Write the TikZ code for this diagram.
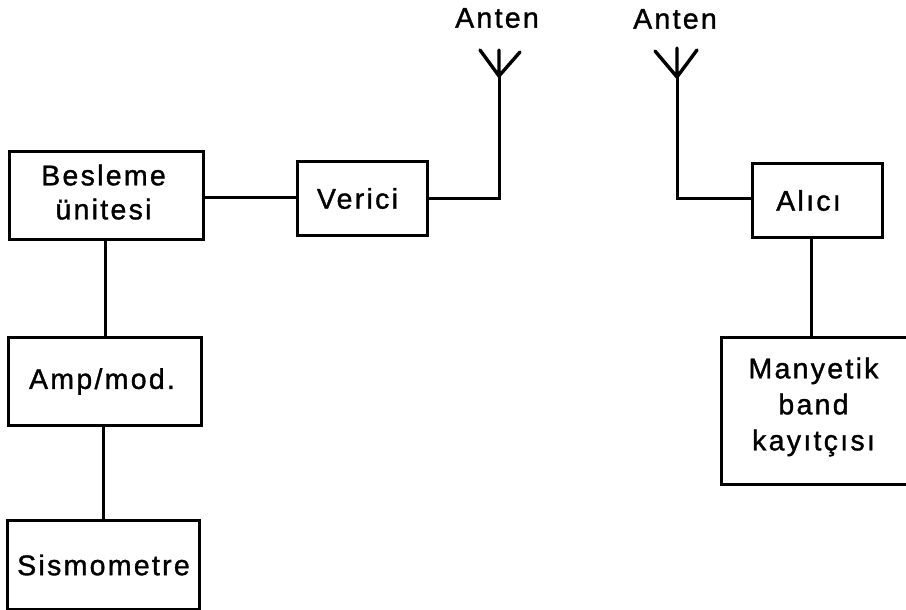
\documentclass[tikz,border=0pt]{standalone}
\usepackage{fontspec}
\setmainfont{Liberation Sans}[LetterSpace=8,FakeBold=1.2]
\tikzset{
  blockbox/.style={draw=black,line width=3pt,inner sep=0pt,align=center,anchor=north west,line cap=round,font=\fontsize{28.5}{34}\selectfont},
  link/.style={draw=black,line width=3pt},
  antenna/.style={draw=black,line width=3.4pt,line cap=round},
  lbl/.style={inner sep=0pt,font=\fontsize{28.5}{34}\selectfont}
}
\begin{document}
\begin{tikzpicture}[x=1pt,y=-1pt]
\useasboundingbox (0,0) rectangle (906,610);
\clip (0,0) rectangle (906,610);
\node[blockbox,minimum width=194pt,minimum height=88pt] (bes) at (8,150) {Besleme\hspace*{6pt}\\ünitesi\hspace*{6pt}\rule[-7pt]{0pt}{0pt}};
\node[blockbox,minimum width=193pt,minimum height=88pt] (amp) at (7,336) {Amp/mod.\hspace*{6pt}};
\node[blockbox,minimum width=192pt,minimum height=89pt] (sis) at (6,519) {Sismometre};
\node[blockbox,minimum width=130pt,minimum height=74pt] (ver) at (296,160) {Verici\hspace*{10pt}};
\node[blockbox,minimum width=130pt,minimum height=74pt] (ali) at (751,162) {Alıcı\hspace*{18pt}};
\node[blockbox,minimum width=200pt,minimum height=147pt,text width=186pt,align=left,font=\fontsize{28.5}{36}\selectfont] (man) at (720,336) {\makebox[170pt][c]{Manyetik}\\\makebox[170pt][c]{band}\\\makebox[170pt][c]{kayıtçısı}\rule[-14pt]{0pt}{0pt}};
\node[lbl] (a1) at (497,18) {Anten};
\node[lbl] (a2) at (675,19) {Anten};
\coordinate (t1) at (499,50);
\coordinate (j1) at (499,76);
\coordinate (c1) at (499,198);
\coordinate (l1) at (480,50);
\coordinate (r1) at (520,52);
\coordinate (t2) at (677,48);
\coordinate (j2) at (677,77);
\coordinate (c2) at (677,198);
\coordinate (l2) at (655,51);
\coordinate (r2) at (697,50);
\draw[link] (bes.east |- 0,197) -- (ver.west |- 0,197);
\draw[link] (ver.east |- 0,198) -- (c1) -- (j1);
\draw[link] (ali.west |- 0,198) -- (c2) -- (j2);
\draw[antenna] (t1) -- (j1) (l1) -- (j1) -- (r1);
\draw[antenna] (t2) -- (j2) (l2) -- (j2) -- (r2);
\draw[link] (105,238) -- (105,336);
\draw[link] (103,424) -- (103,519);
\draw[link] (811,236) -- (811,336);
\end{tikzpicture}
\end{document}
